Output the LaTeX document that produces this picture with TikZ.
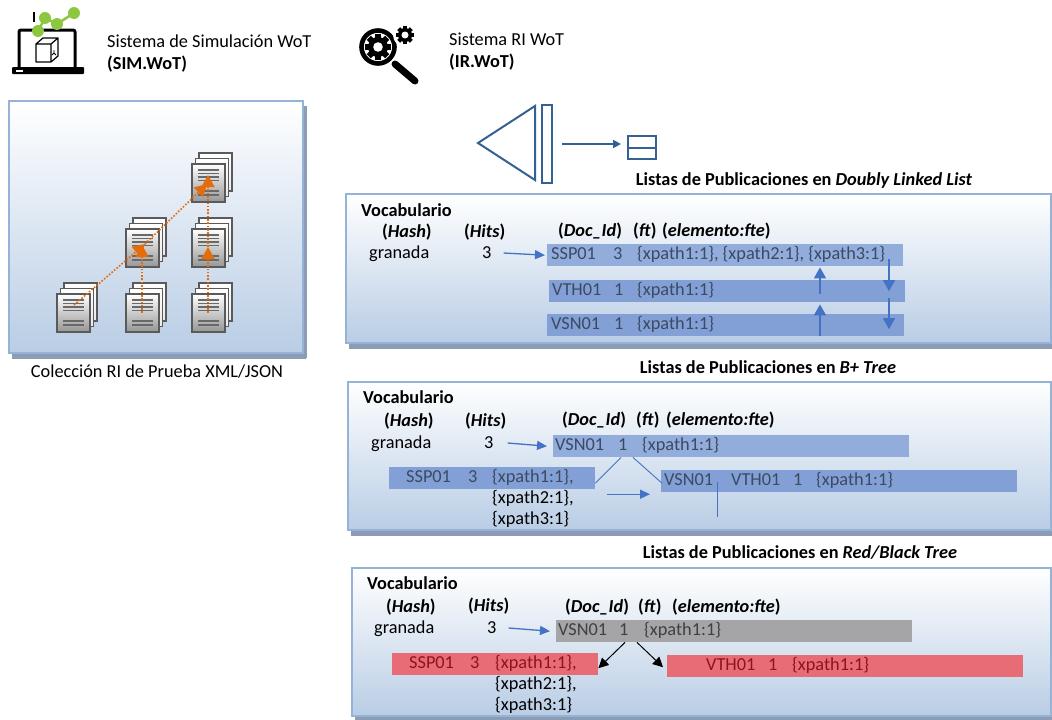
\documentclass[tikz,border=0pt]{standalone}
\usepackage{fontspec}
\setmainfont{Carlito}
\usetikzlibrary{arrows.meta,calc,shadows}

\definecolor{panelborder}{RGB}{149,179,215}
\definecolor{panelbottom}{RGB}{185,205,229}
\definecolor{panelshadow}{RGB}{140,156,180}
\definecolor{barA}{RGB}{146,172,220}
\definecolor{barB}{RGB}{130,160,214}
\definecolor{bartext}{RGB}{60,74,98}
\definecolor{arrowblue}{RGB}{68,114,196}
\definecolor{iconblue}{RGB}{54,96,146}
\definecolor{greybar}{RGB}{165,165,167}
\definecolor{greytext}{RGB}{64,64,64}
\definecolor{redbar}{RGB}{232,108,118}
\definecolor{redtext}{RGB}{140,20,30}
\definecolor{docorange}{RGB}{228,108,10}
\definecolor{chartgreen}{RGB}{141,198,63}
\definecolor{sheetline}{RGB}{105,105,105}
\definecolor{sheetframe}{RGB}{90,90,90}
\definecolor{sheetgrey}{RGB}{150,150,150}

\newcommand\fsz{\fontsize{18.3}{22}\selectfont}

\begin{document}
\begin{tikzpicture}[x=1pt,y=-1pt,
  txt/.style={inner sep=0pt, anchor=west, text height=11.5pt, text depth=0pt, font=\fsz},
  hdr/.style={txt, font=\fsz\bfseries},
  ttl/.style={inner sep=0pt, text height=11.5pt, text depth=0pt, font=\fsz\bfseries},
  btxt/.style={txt, text=bartext},
  gtxt/.style={txt, text=greytext},
  rtxt/.style={txt, text=redtext},
  panel/.style={draw=panelborder, line width=2pt, top color=white, bottom color=panelbottom,
    anchor=north west, inner sep=0pt,
    general shadow={fill=panelshadow, shadow xshift=3pt, shadow yshift=-6pt}},
  bar/.style={anchor=north west, inner sep=0pt, minimum height=22pt},
  harrow/.style={draw=arrowblue, line width=1.3pt, -{Triangle[length=10pt,width=9pt]}},
  varrow/.style={draw=arrowblue, line width=1.3pt, -{Triangle[length=11pt,width=12pt]}},
  thinblue/.style={draw=arrowblue, line width=0.9pt},
  karrow/.style={draw=black, line width=1pt, -{Triangle[length=10pt,width=10pt]}},
  oarrow/.style={draw=docorange, line width=1.6pt, dash pattern=on 1.6pt off 1.7pt,
    -{Triangle[length=12pt,width=13pt]}},
  iconline/.style={draw=iconblue, line width=2pt},
  docstack/.pic={
    \foreach \o in {2,1}
      \shade[draw=sheetframe, line width=1.7pt, top color=white, bottom color=white!80!sheetgrey]
        (3.5*\o,-5.5*\o) rectangle ++(33,38);
    \shade[draw=sheetframe, line width=1.7pt, top color=white, bottom color=sheetgrey]
      (0,0) rectangle (33,38);
    \foreach \yy in {6,9.5,13,16.5,27,31}
      \draw[sheetline, line width=1.3pt] (6,\yy) -- (27,\yy);
  }
]
\useasboundingbox (0,0) rectangle (1052,720);

% ---------- laptop with chart ----------
\draw[line width=3pt, rounded corners=2pt] (19,67) -- (19,30) -- (75,30) -- (75,67);
\fill[rounded corners=1pt] (12,67) rectangle (84,74);
\fill[white] (16,69.5) rectangle (23,71.5);
\draw[line width=1.2pt, line join=round]
  (36,44) -- (51,44) -- (51,62) -- (36,62) -- cycle
  (36,44) -- (43,38) -- (58,38) -- (51,44)
  (58,38) -- (58,56) -- (51,62);
\draw[line width=0.9pt] (54,50) -- (54,53) -- (52,55) (54,53) -- (56,55);
\draw[line width=1.5pt] (34,12) -- (34,22);
\draw[chartgreen, line width=2.5pt] (38,31) -- (45,18) -- (57,24) -- (74,13);
\foreach \p in {(38,31),(45,18),(57,24),(74,13)}
  \fill[chartgreen] \p circle (6);

\node[txt] (simA) at (107,42) {Sistema de Simulación WoT};
\node[txt] (simB) at (107,64) {\textbf{(SIM.WoT)}};

% ---------- magnifier with gears ----------
\draw[line width=7pt, line cap=round] (395,64) -- (415,81);
\draw[line width=4.6pt] (378,47) circle (16.5);
\fill[white] (405,35) circle (12);
\fill (378,47) circle (10);
\foreach \a in {0,45,...,315}
  \fill[rotate around={\a:(378,47)}] (375,34) rectangle (381,40);
\fill[white] (378,47) circle (4.8);
\fill (405,35) circle (7);
\foreach \a in {0,45,...,315}
  \fill[rotate around={\a:(405,35)}] (403,26) rectangle (407,31);
\fill[white] (405,35) circle (3.5);

\node[txt] (irA) at (449,40) {Sistema RI WoT};
\node[txt] (irB) at (449,62) {\textbf{(IR.WoT)}};

% ---------- index symbol ----------
\draw[iconline, line join=miter] (535,106) -- (478,143) -- (535,180) -- cycle;
\node[draw=iconblue, line width=2pt, minimum width=10pt, minimum height=78pt,
  inner sep=0pt, anchor=north west] (ib) at (541,104) {};
\node[draw=iconblue, line width=2pt, minimum width=28pt, minimum height=23pt,
  inner sep=0pt, anchor=north west] (ic) at (627,135) {};
\draw[iconline] (ic.west) -- (ic.east);
\draw[iconline, -{Triangle[length=8pt,width=8pt]}] ([xshift=9pt]ib.east) -- ([xshift=-6pt]ic.west |- ib.east);

% ---------- document collection ----------
\node[panel, minimum width=294pt, minimum height=252pt,
  general shadow={fill=panelshadow, shadow xshift=4pt, shadow yshift=-5pt}] (coll) at (8,100) {};
\pic (sT)  at (192,164) {docstack};
\pic (sML) at (126,229) {docstack};
\pic (sMR) at (192,229) {docstack};
\pic (sBL) at (57,294)  {docstack};
\pic (sBM) at (126,294) {docstack};
\pic (sBR) at (192,294) {docstack};
\coordinate (oBL) at (74,305);
\coordinate (oBM) at (142,313);
\coordinate (oBR) at (208,313);
\coordinate (oML) at (145,244);
\coordinate (oMLv) at (142,245);
\coordinate (oMR) at (208,247);
\coordinate (oT)  at (207,184);
\coordinate (oTv) at (208,175);
\draw[oarrow] (oBL) -- (oML);
\draw[oarrow] (oML) -- (oT);
\draw[oarrow] (oBM) -- (oMLv);
\draw[oarrow] (oBR) -- (oMR);
\draw[oarrow] (oMR) -- (oTv);
\node[txt, anchor=center] (cap) at (157,372) {Colección RI de Prueba XML/JSON};

% ---------- doubly linked list ----------
\node[ttl] (t1) at (804,180) {Listas de Publicaciones en \textit{Doubly Linked List}};
\node[panel, minimum width=705pt, minimum height=149pt] (p1) at (345,193) {};
\node[hdr] (voc1) at (361,211) {Vocabulario};
\node[hdr] (hash1) at (382,232) {(\textit{Hash})};
\node[hdr] (hits1) at (464,232) {(\textit{Hits})};
\node[txt] (w1) at (369,253) {granada};
\node[txt] (n1) at (482,253) {3};
\node[hdr] (doc1) at (558,231) {(\textit{Doc\_Id})};
\node[hdr] (ft1) at (633,231) {(\textit{ft})};
\node[hdr] (el1) at (662,231) {(\textit{elemento:fte})};
\node[bar, fill=barA, minimum width=356pt] (d1) at (547,244) {};
\node[bar, fill=barB, minimum width=356pt] (d2) at (549,280) {};
\node[bar, fill=barB, minimum width=357pt] (d3) at (547,314) {};
\node[btxt] (d1a) at (551,254) {SSP01};
\node[btxt] (d1b) at (613,254) {3};
\node[btxt] (d1c) at (637,254) {\{xpath1:1\}, \{xpath2:1\}, \{xpath3:1\}};
\node[btxt] (d2a) at (552,290) {VTH01};
\node[btxt] (d2b) at (614,290) {1};
\node[btxt] (d2c) at (637,290) {\{xpath1:1\}};
\node[btxt] (d3a) at (551,324) {VSN01};
\node[btxt] (d3b) at (614,324) {1};
\node[btxt] (d3c) at (637,324) {\{xpath1:1\}};
\draw[harrow] ([xshift=12pt]n1.east) -- ([xshift=-2pt]d1.west);
\coordinate (ux) at (820,0);
\coordinate (dx) at (889,0);
\draw[varrow] ($(d2.center -| ux)+(0,3)$) -- ($(d1.south -| ux)+(0,1)$);
\draw[varrow] (d3.south -| ux) -- ($(d2.south -| ux)+(0,2)$);
\draw[varrow] ($(d1.center -| dx)+(0,4)$) -- (d2.center -| dx);
\draw[varrow] ($(d2.south -| dx)+(0,-4)$) -- ($(d3.center -| dx)+(0,4)$);

% ---------- B+ tree ----------
\node[ttl] (t2) at (768,368) {Listas de Publicaciones en \textit{B+ Tree}};
\node[panel, minimum width=703pt, minimum height=148pt] (p2) at (347,381) {};
\node[hdr] (voc2) at (363,398) {Vocabulario};
\node[hdr] (hash2) at (384,421) {(\textit{Hash})};
\node[hdr] (hits2) at (465,421) {(\textit{Hits})};
\node[txt] (w2) at (371,443) {granada};
\node[txt] (n2) at (484,443) {3};
\node[hdr] (doc2) at (562,420) {(\textit{Doc\_Id})};
\node[hdr] (ft2) at (636,420) {(\textit{ft})};
\node[hdr] (el2) at (666,420) {(\textit{elemento:fte})};
\node[bar, fill=barA, minimum width=356pt] (b1) at (553,435) {};
\node[bar, fill=barB, minimum width=206pt] (b2) at (389,467) {};
\node[bar, fill=barB, minimum width=356pt] (b3) at (661,470) {};
\node[btxt] (b1a) at (555,445) {VSN01};
\node[btxt] (b1b) at (618,445) {1};
\node[btxt] (b1c) at (642,445) {\{xpath1:1\}};
\node[btxt] (b2a) at (406,477) {SSP01};
\node[btxt] (b2b) at (468,477) {3};
\node[btxt] (b2c) at (492,477) {\{xpath1:1\},};
\node[txt] (b2d) at (492,498) {\{xpath2:1\},};
\node[txt] (b2e) at (492,519) {\{xpath3:1\}};
\node[btxt] (b3a) at (664,480) {VSN01};
\node[btxt] (b3b) at (731,480) {VTH01};
\node[btxt] (b3c) at (793,480) {1};
\node[btxt] (b3d) at (816,480) {\{xpath1:1\}};
\draw[harrow] ([xshift=14pt]n2.east) -- ([xshift=-6pt]b1.west);
\draw[thinblue] ($(b1.south west)+(68,0)$) -- ($(b2.east)+(0,5)$);
\draw[thinblue] ($(b1.south west)+(80,0)$) -- ($(b3.west)+(1,2)$);
\draw[thinblue] ($(b3.west)+(56,1)$) -- ($(b3.west)+(56,36)$);
\draw[harrow] ($(b2.east)+(12,16)$) -- ($(b3.west)+(-11,13)$);

% ---------- red/black tree ----------
\node[ttl] (t3) at (800,553) {Listas de Publicaciones en \textit{Red/Black Tree}};
\node[panel, minimum width=699pt, minimum height=148pt] (p3) at (351,567) {};
\node[hdr] (voc3) at (367,584) {Vocabulario};
\node[hdr] (hash3) at (386,607) {(\textit{Hash})};
\node[hdr] (hits3) at (468,606) {(\textit{Hits})};
\node[txt] (w3) at (374,628) {granada};
\node[txt] (n3) at (487,628) {3};
\node[hdr] (doc3) at (565,607) {(\textit{Doc\_Id})};
\node[hdr] (ft3) at (638,607) {(\textit{ft})};
\node[hdr] (el3) at (672,607) {(\textit{elemento:fte})};
\node[bar, fill=greybar, minimum width=356pt] (r1) at (556,620) {};
\node[bar, fill=redbar, minimum width=206pt] (r2) at (392,653) {};
\node[bar, fill=redbar, minimum width=356pt] (r3) at (667,655) {};
\node[gtxt] (r1a) at (558,630) {VSN01};
\node[gtxt] (r1b) at (619,630) {1};
\node[gtxt] (r1c) at (644,630) {\{xpath1:1\}};
\node[rtxt] (r2a) at (409,663) {SSP01};
\node[rtxt] (r2b) at (470,663) {3};
\node[rtxt] (r2c) at (495,663) {\{xpath1:1\},};
\node[txt] (r2d) at (495,684) {\{xpath2:1\},};
\node[txt] (r2e) at (495,705) {\{xpath3:1\}};
\node[rtxt] (r3a) at (706,665) {VTH01};
\node[rtxt] (r3b) at (768,665) {1};
\node[rtxt] (r3c) at (792,665) {\{xpath1:1\}};
\draw[harrow] ([xshift=12pt]n3.east) -- ([xshift=-6pt]r1.west);
\draw[karrow] ($(r1.south west)+(69,0)$) -- ($(r2.east)+(0,4)$);
\draw[karrow] ($(r1.south west)+(81,0)$) -- ($(r3.west)+(-4,1)$);

\end{tikzpicture}
\end{document}
